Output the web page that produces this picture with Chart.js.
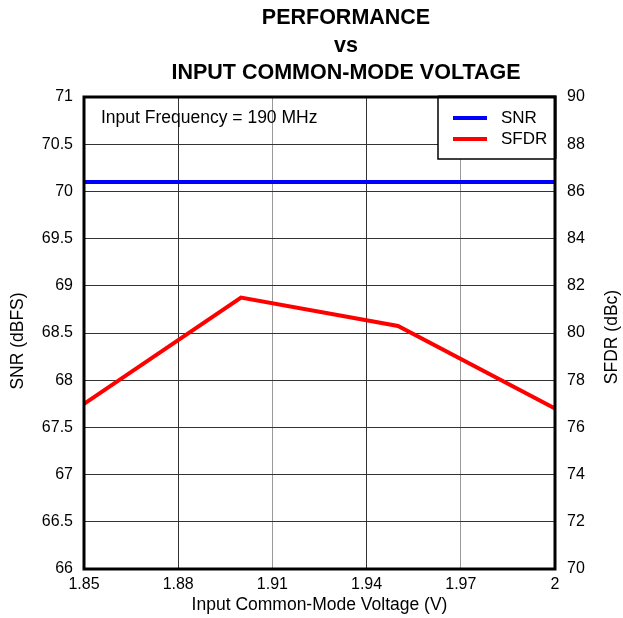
<!DOCTYPE html>
<html>
<head>
<meta charset="utf-8">
<script src="https://cdn.jsdelivr.net/npm/chart.js@4/dist/chart.umd.min.js"></script>
<style>
  html, body { margin: 0; padding: 0; background: #fff; }
  #wrap { width: 623px; height: 618px; }
</style>
</head>
<body>
<div id="wrap"><canvas id="perfChart" width="623" height="618"></canvas></div>
<script>
// input common-mode voltage (V)
const voltage = [1.85, 1.90, 1.95, 2.00];
// SNR (dBFS), left axis
const snr = [70.1, 70.1, 70.1, 70.1];
// SFDR (dBc), right axis
const sfdr = [77.0, 81.5, 80.3, 76.8];

const xTicks = [1.85, 1.88, 1.91, 1.94, 1.97, 2];
const titleLines = ['PERFORMANCE', 'vs', 'INPUT COMMON-MODE VOLTAGE'];
const noteText = 'Input Frequency = 190 MHz';

const FONT = 'Arial, "Liberation Sans", Helvetica, sans-serif';

// heading, frame, note, legend box and both y-axis titles
const decorations = {
  id: 'decorations',
  afterDraw(chart) {
    const ctx = chart.ctx;
    const a = chart.chartArea;
    ctx.save();

    // heading
    ctx.fillStyle = '#000';
    ctx.font = 'bold 21.5px ' + FONT;
    ctx.textAlign = 'center';
    ctx.textBaseline = 'middle';
    const ys = [18, 46, 73];
    titleLines.forEach((t, i) => ctx.fillText(t, 346, ys[i]));

    // plot frame
    ctx.strokeStyle = '#000';
    ctx.lineWidth = 3;
    ctx.strokeRect(a.left, a.top, a.right - a.left, a.bottom - a.top);

    // note
    ctx.font = '17.5px ' + FONT;
    ctx.textAlign = 'left';
    ctx.fillText(noteText, a.left + 17, 118);

    // legend box
    const bx = 438, by = a.top, bh = 62;
    ctx.fillStyle = '#fff';
    ctx.fillRect(bx, by, a.right - bx, bh);
    ctx.lineWidth = 1.5;
    ctx.strokeStyle = '#000';
    ctx.beginPath();
    ctx.moveTo(bx, by);
    ctx.lineTo(bx, by + bh);
    ctx.lineTo(a.right, by + bh);
    ctx.stroke();
    ctx.lineWidth = 3;
    ctx.beginPath();
    ctx.moveTo(bx, by);
    ctx.lineTo(a.right, by);
    ctx.lineTo(a.right, by + bh);
    ctx.stroke();

    ctx.font = '17px ' + FONT;
    chart.data.datasets.forEach((ds, i) => {
      const ly = by + 21 + i * 21;
      ctx.strokeStyle = ds.borderColor;
      ctx.lineWidth = 4;
      ctx.beginPath();
      ctx.moveTo(bx + 15, ly);
      ctx.lineTo(bx + 49, ly);
      ctx.stroke();
      ctx.fillStyle = '#000';
      ctx.fillText(ds.label, bx + 63, ly);
    });

    // y-axis titles, reading bottom to top
    ctx.font = '17.5px ' + FONT;
    ctx.textAlign = 'center';
    ctx.save();
    ctx.translate(18, 341);
    ctx.rotate(-Math.PI / 2);
    ctx.fillText('SNR (dBFS)', 0, 0);
    ctx.restore();
    ctx.translate(612, 337);
    ctx.rotate(-Math.PI / 2);
    ctx.fillText('SFDR (dBc)', 0, 0);
    ctx.restore();
  }
};

const ctx = document.getElementById('perfChart').getContext('2d');
new Chart(ctx, {
  type: 'line',
  data: {
    datasets: [{
      label: 'SNR',
      data: voltage.map((v, i) => ({ x: v, y: snr[i] })),
      borderColor: '#0000ff',
      borderWidth: 4,
      pointRadius: 0,
      yAxisID: 'ySnr'
    }, {
      label: 'SFDR',
      data: voltage.map((v, i) => ({ x: v, y: sfdr[i] })),
      borderColor: '#ff0000',
      borderWidth: 4,
      pointRadius: 0,
      yAxisID: 'ySfdr'
    }]
  },
  options: {
    responsive: false,
    animation: false,
    layout: { padding: { top: 97 } },
    plugins: {
      legend: { display: false },
      tooltip: { enabled: false }
    },
    scales: {
      x: {
        type: 'linear',
        min: 1.85,
        max: 2,
        afterBuildTicks: s => { s.ticks = xTicks.map(v => ({ value: v })); },
        afterFit: s => { s.height = 49; },
        ticks: {
          color: '#000',
          font: { family: FONT, size: 16 },
          padding: 6,
          maxRotation: 0,
          callback: v => String(+v.toFixed(2))
        },
        grid: {
          drawTicks: false,
          color: c => (c.index % 2 === 0 ? '#999' : '#333'),
          lineWidth: 1
        },
        border: { display: false },
        title: {
          display: true,
          text: 'Input Common-Mode Voltage (V)',
          color: '#000',
          font: { family: FONT, size: 17.5 },
          padding: { top: 0, bottom: 2 }
        }
      },
      ySnr: {
        position: 'left',
        min: 66,
        max: 71,
        afterFit: s => { s.width = 84; },
        ticks: {
          stepSize: 0.5,
          color: '#000',
          font: { family: FONT, size: 16 },
          padding: 11,
          callback: v => String(+v.toFixed(1))
        },
        grid: { drawTicks: false, color: '#333', lineWidth: 1 },
        border: { display: false }
      },
      ySfdr: {
        position: 'right',
        min: 70,
        max: 90,
        afterFit: s => { s.width = 68; },
        ticks: {
          stepSize: 2,
          color: '#000',
          font: { family: FONT, size: 16 },
          padding: 12
        },
        grid: { drawOnChartArea: false, drawTicks: false },
        border: { display: false }
      }
    }
  },
  plugins: [decorations]
});
</script>
</body>
</html>
